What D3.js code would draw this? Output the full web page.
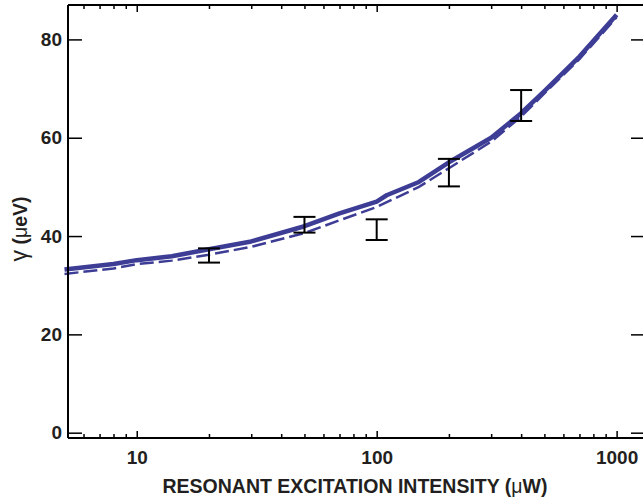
<!DOCTYPE html>
<html>
<head>
<meta charset="utf-8">
<script src="https://cdn.jsdelivr.net/npm/d3@7"></script>
<style>
  html, body { margin: 0; padding: 0; background: #fff; }
  svg { display: block; }
  text { font-family: "Liberation Sans", Arial, sans-serif; font-weight: bold; fill: #231f20; }
</style>
</head>
<body>
<svg id="chart" width="643" height="500"></svg>
<script>
// ---- data ----
const powerSolid = [5, 8, 10, 14, 20, 30, 50, 70, 100, 110, 150, 200, 300, 400, 500, 700, 1000];
const gammaSolid = [33.2, 34.3, 35.1, 35.9, 37.3, 38.9, 42.0, 44.6, 47.0, 48.3, 51.0, 55.0, 60.0, 65.0, 69.5, 76.5, 85.0];
const powerDashed = [5, 8, 10, 14, 20, 30, 50, 70, 100, 150, 200, 300, 400, 500, 700, 1000];
const gammaDashed = [32.3, 33.4, 34.3, 35.0, 36.2, 37.8, 40.6, 43.2, 45.9, 50.0, 53.8, 59.2, 64.3, 69.0, 76.0, 84.5];
const errPower = [20, 50, 100, 200, 400];
const errLow = [34.6, 40.7, 39.2, 50.1, 63.4];
const errHigh = [37.5, 43.9, 43.4, 55.7, 69.7];
const xTickValues = [10, 100, 1000];
const xTickLabels = ["10", "100", "1000"];
const yTickValues = [0, 20, 40, 60, 80];
const xTitle = "RESONANT EXCITATION INTENSITY (";

// ---- layout ----
const pL = 68, pR = 645, pT = 5, pB = 438;
const svg = d3.select("#chart");
const x = d3.scaleLog().domain([5.17, 1313]).range([pL, pR]);
const y = d3.scaleLinear().domain([-1.08, 87.0]).range([pB, pT]);
const lineColor = "#3d3d96";

const g = svg.append("g");

// curves
const line = d3.line().x(d => x(d[0])).y(d => y(d[1]));
const dashedData = powerDashed.map((p, i) => [p, gammaDashed[i]]);
const solidData = powerSolid.map((p, i) => [p, gammaSolid[i]]);
g.append("path").datum(dashedData).attr("d", line)
  .attr("fill", "none").attr("stroke", lineColor).attr("stroke-width", 2.5)
  .attr("stroke-dasharray", "14,5");
g.append("path").datum(solidData).attr("d", line)
  .attr("fill", "none").attr("stroke", lineColor).attr("stroke-width", 4.5)
  .attr("stroke-linejoin", "round");

// error bars
const eb = g.append("g").attr("stroke", "#000").attr("stroke-width", 2);
errPower.forEach((p, i) => {
  const cx = x(p);
  eb.append("line").attr("x1", cx).attr("x2", cx).attr("y1", y(errLow[i])).attr("y2", y(errHigh[i]));
  eb.append("line").attr("x1", cx - 11).attr("x2", cx + 11).attr("y1", y(errLow[i])).attr("y2", y(errLow[i]));
  eb.append("line").attr("x1", cx - 11).attr("x2", cx + 11).attr("y1", y(errHigh[i])).attr("y2", y(errHigh[i]));
});

// frame axes
const axisW = 1.5;
function styleAxis(sel) {
  sel.select(".domain").remove();
  sel.selectAll(".tick line").attr("stroke", "#000").attr("stroke-width", axisW);
}
const minorTicks = x.ticks().filter(v => xTickValues.indexOf(v) < 0);

// bottom
const bMajor = g.append("g").attr("transform", `translate(0,${pB})`)
  .call(d3.axisBottom(x).tickValues(xTickValues).tickSize(-7).tickFormat((d, i) => xTickLabels[i]).tickPadding(13));
styleAxis(bMajor);
bMajor.selectAll(".tick text").attr("font-size", 19).attr("font-family", "Liberation Sans, Arial, sans-serif")
  .attr("font-weight", "bold").attr("fill", "#231f20");
const bMinor = g.append("g").attr("transform", `translate(0,${pB})`)
  .call(d3.axisBottom(x).tickValues(minorTicks).tickSize(-4).tickFormat(""));
styleAxis(bMinor);
// top
const tMajor = g.append("g").attr("transform", `translate(0,${pT})`)
  .call(d3.axisTop(x).tickValues(xTickValues).tickSize(-7).tickFormat(""));
styleAxis(tMajor);
const tMinor = g.append("g").attr("transform", `translate(0,${pT})`)
  .call(d3.axisTop(x).tickValues(minorTicks).tickSize(-4).tickFormat(""));
styleAxis(tMinor);
// left
const lAx = g.append("g").attr("transform", `translate(${pL},0)`)
  .call(d3.axisLeft(y).tickValues(yTickValues).tickSize(-14).tickPadding(6).tickFormat(d3.format("d")));
styleAxis(lAx);
lAx.selectAll(".tick text").attr("font-size", 19).attr("font-family", "Liberation Sans, Arial, sans-serif")
  .attr("font-weight", "bold").attr("fill", "#231f20");
// right
const rAx = g.append("g").attr("transform", `translate(${pR},0)`)
  .call(d3.axisRight(y).tickValues(yTickValues).tickSize(-14).tickFormat(""));
styleAxis(rAx);

// frame lines
const fr = g.append("g").attr("stroke", "#000").attr("stroke-width", 2).attr("fill", "none");
fr.append("line").attr("x1", pL).attr("x2", pR).attr("y1", pB).attr("y2", pB);
fr.append("line").attr("x1", pL).attr("x2", pR).attr("y1", pT).attr("y2", pT);
fr.append("line").attr("x1", pL).attr("x2", pL).attr("y1", pT).attr("y2", pB);
fr.append("line").attr("x1", pR).attr("x2", pR).attr("y1", pT).attr("y2", pB);

// titles
const xt = svg.append("text").attr("x", 355).attr("y", 493).attr("text-anchor", "middle")
  .attr("font-size", 19.5);
xt.append("tspan").text(xTitle);
xt.append("tspan").attr("font-weight", "normal").text("μ");
xt.append("tspan").text("W)");

const yt = svg.append("text").attr("transform", "translate(27,229) rotate(-90)")
  .attr("text-anchor", "middle").attr("font-size", 19.5);
yt.append("tspan").attr("font-weight", "normal").attr("font-size", 23).text("γ");
yt.append("tspan").text(" (");
yt.append("tspan").attr("font-weight", "normal").text("μ");
yt.append("tspan").text("eV)");
</script>
</body>
</html>
